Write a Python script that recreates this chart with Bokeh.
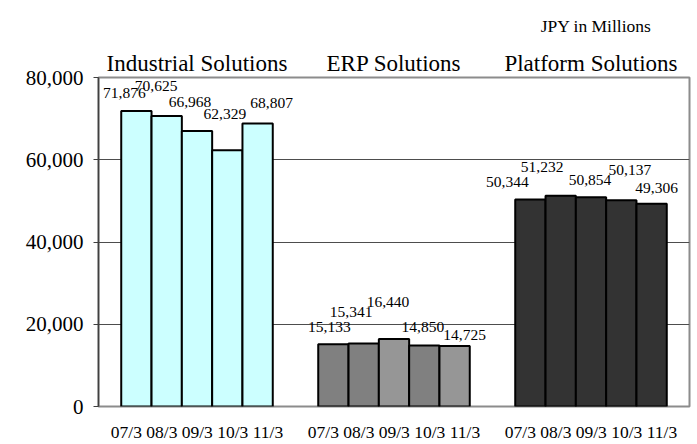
from bokeh.plotting import figure
from bokeh.models import (FactorRange, Range1d, ColumnDataSource, LabelSet,
                          NumeralTickFormatter, FixedTicker, CategoricalAxis,
                          CustomJSTickFormatter)
from bokeh.embed import file_html
from bokeh.resources import INLINE

# ---- data ----
groups = ["Industrial Solutions", "ERP Solutions", "Platform Solutions"]
years = ["07/3", "08/3", "09/3", "10/3", "11/3"]
industrial = [71876, 70625, 66968, 62329, 68807]
erp = [15133, 15341, 16440, 14850, 14725]
platform = [50344, 51232, 50854, 50137, 49306]
y_ticks = [0, 20000, 40000, 60000, 80000]
unit_note = "JPY in Millions"

# ---- styles ----
group_colors = [
    ["#CCFFFF"] * 5,
    ["#808080", "#808080", "#969696", "#808080", "#969696"],
    ["#333333"] * 5,
]
# value-label offsets in pixels (as the original places them)
label_dx = [-12, -10.6, -7, -2.4, 14, -4, -12.6, -6, -1.4, 10, -23, -18.6, -1, 8.6, 5]
label_dy = [17.6, 29.8, 28.9, 36, 21, 17.4, 31.5, 37, 18.6, 11, 17.7, 29, 17.6, 30.6, 16]
FONT = "Liberation Serif"

factors = [(g, y) for g in groups for y in years]
values = industrial + erp + platform
colors = [c for cs in group_colors for c in cs]

n = len(years)
x_range = FactorRange(factors=factors, factor_padding=0, group_padding=1.5,
                      range_padding=0.75, range_padding_units="absolute")
# a range over the groups only, aligned with the group centres of x_range
group_range = FactorRange(factors=groups, factor_padding=n - 1 + 1.5,
                          range_padding=0.75 + (n - 1) / 2,
                          range_padding_units="absolute")

p = figure(width=697, height=444, x_range=x_range, y_range=Range1d(0, 80000),
           extra_x_ranges={"groups": group_range},
           output_backend="svg", toolbar_location=None,
           min_border_left=98, min_border_right=8, min_border_top=77,
           min_border_bottom=36, x_axis_location=None)
p.background_fill_color = "white"
p.border_fill_color = "white"
p.outline_line_color = "#8c8c8c"
p.outline_line_width = 2

p.title.text = unit_note
p.title.align = "right"
p.title.offset = 38
p.title.standoff = 24
p.title.text_font = FONT
p.title.text_font_size = "17.5px"
p.title.text_font_style = "normal"
p.title.text_color = "black"

p.yaxis.ticker = FixedTicker(ticks=y_ticks)
p.yaxis.formatter = NumeralTickFormatter(format="0,0")
p.yaxis.major_label_text_font = FONT
p.yaxis.major_label_text_font_size = "21px"
p.yaxis.major_label_text_color = "black"
p.yaxis.axis_line_color = "#404040"
p.yaxis.axis_line_width = 1.5
p.yaxis.major_tick_line_color = "#404040"
p.yaxis.major_tick_out = 5
p.yaxis.major_tick_in = 0
p.yaxis.minor_tick_line_color = None
p.yaxis.major_label_standoff = 10
p.ygrid.grid_line_color = "#4d4d4d"
p.ygrid.grid_line_width = 1
p.xgrid.visible = False

top_axis = CategoricalAxis(x_range_name="groups")
top_axis.axis_line_color = None
top_axis.major_tick_line_color = None
top_axis.major_tick_out = 0
top_axis.major_tick_in = 0
top_axis.minor_tick_line_color = None
top_axis.major_label_standoff = 2
top_axis.major_label_text_font = FONT
top_axis.major_label_text_font_size = "23px"
top_axis.major_label_text_color = "black"
p.add_layout(top_axis, "above")

bottom_axis = CategoricalAxis(x_range_name="groups")
bottom_axis.axis_line_color = None
bottom_axis.major_tick_line_color = None
bottom_axis.major_tick_out = 0
bottom_axis.major_tick_in = 0
bottom_axis.minor_tick_line_color = None
bottom_axis.major_label_standoff = 15
bottom_axis.major_label_text_font = FONT
bottom_axis.major_label_text_font_size = "17.5px"
bottom_axis.major_label_text_color = "black"
bottom_axis.formatter = CustomJSTickFormatter(args=dict(years=years),
                                              code="return years.join(' ');")
p.add_layout(bottom_axis, "below")

src = ColumnDataSource(dict(
    x=factors, value=values, color=colors,
    label=[f"{v:,}" for v in values], dx=label_dx, dy=label_dy))

p.vbar(x="x", top="value", width=1.0, source=src, fill_color="color",
       line_color="black", line_width=2)

p.add_layout(LabelSet(x="x", y="value", text="label", source=src,
                      x_offset="dx", y_offset="dy", text_align="center",
                      text_baseline="middle", text_font=FONT,
                      text_font_size="15.5px", text_color="black"))

open("out.html", "w").write(file_html(p, INLINE))
